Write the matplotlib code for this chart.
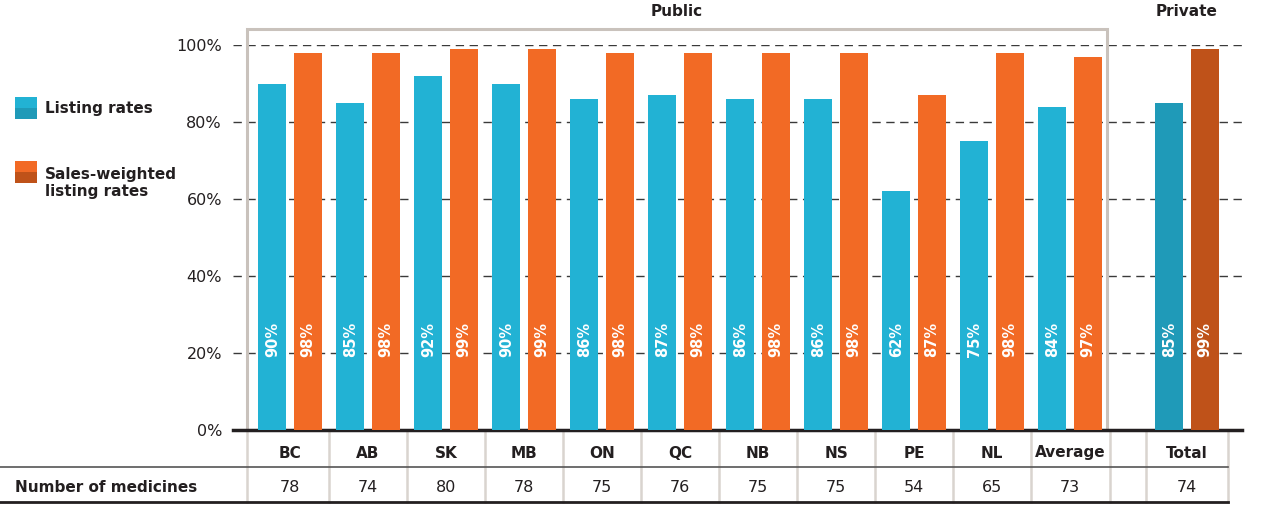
import matplotlib.pyplot as plt
from matplotlib.patches import Rectangle

# datos
provincias = ["BC", "AB", "SK", "MB", "ON", "QC", "NB", "NS", "PE", "NL", "Average"]
listing = [90, 85, 92, 90, 86, 87, 86, 86, 62, 75, 84]
sales_w = [98, 98, 99, 99, 98, 98, 98, 98, 87, 98, 97]
n_meds = [78, 74, 80, 78, 75, 76, 75, 75, 54, 65, 73]

privado_label = "Total"
privado_listing = 85
privado_sales = 99
privado_n = 74

yticks = [0, 20, 40, 60, 80, 100]

AZUL = "#22b2d4"
NARANJA = "#f26a25"
AZUL_OSC = "#1f9ab8"
NARANJA_OSC = "#bf5219"
TEXTO = "#231f20"

plt.rcParams["font.family"] = ["DejaVu Sans"]

W, H = 1276, 516
fig = plt.figure(figsize=(W / 100, H / 100), dpi=100)

# ejes: y=0 en px 430, 100% en px 45
y0_px, y100_px = 430, 45
ax_left, ax_right = 233, 1242
ax = fig.add_axes([ax_left / W, 1 - y0_px / H, (ax_right - ax_left) / W, (y0_px - y100_px) / H])

# escala x: 78 px por unidad, BC en px 290
px_unit = 78.0
x_bc = 290.0
def xd(px):
    return (px - x_bc) / px_unit
def ya(py):
    return (y0_px - py) / (y0_px - y100_px)

ax.set_xlim(xd(ax_left), xd(ax_right))
ax.set_ylim(0, 100)

pos = list(range(len(provincias)))
pos_priv = 11.5
w = 0.36
off = 0.225

ax.bar([p - off for p in pos], listing, width=w, color=AZUL, zorder=3)
ax.bar([p + off for p in pos], sales_w, width=w, color=NARANJA, zorder=3)
ax.bar([pos_priv - off], [privado_listing], width=w, color=AZUL_OSC, zorder=3)
ax.bar([pos_priv + off], [privado_sales], width=w, color=NARANJA_OSC, zorder=3)

# etiquetas dentro de barras
fs_bar = 10.5
for p, a, b in zip(pos, listing, sales_w):
    ax.text(p - off, 23.5, f"{a}%", rotation=90, ha="center", va="center",
            color="white", fontsize=fs_bar, fontweight="bold", zorder=4)
    ax.text(p + off, 23.5, f"{b}%", rotation=90, ha="center", va="center",
            color="white", fontsize=fs_bar, fontweight="bold", zorder=4)
ax.text(pos_priv - off, 23.5, f"{privado_listing}%", rotation=90, ha="center", va="center",
        color="white", fontsize=fs_bar, fontweight="bold", zorder=4)
ax.text(pos_priv + off, 23.5, f"{privado_sales}%", rotation=90, ha="center", va="center",
        color="white", fontsize=fs_bar, fontweight="bold", zorder=4)

# grid
for yt in yticks[1:]:
    ax.axhline(yt, color="#3a3a3a", lw=1.0, ls=(0, (6, 4)), zorder=1)

ax.set_yticks(yticks)
ax.set_yticklabels([f"{v}%" for v in yticks], fontsize=11.5, color=TEXTO)
ax.tick_params(axis="y", length=0, pad=8)
ax.set_xticks([])
for s in ["top", "right", "left"]:
    ax.spines[s].set_visible(False)
ax.spines["bottom"].set_linewidth(2.5)
ax.spines["bottom"].set_color("#231f20")

# caja "Public"
box_l, box_r = xd(247), xd(1107)
ax.add_patch(Rectangle((box_l, 0), box_r - box_l, ya(29) * 100, fill=False,
                       edgecolor="#c9c2bc", lw=2.2, zorder=2, clip_on=False))
ax.text((box_l + box_r) / 2, ya(12) * 100, "Public", ha="center", va="center",
        fontsize=11, fontweight="bold", color=TEXTO, clip_on=False)
ax.text(pos_priv, ya(12) * 100, "Private", ha="center", va="center",
        fontsize=11, fontweight="bold", color=TEXTO, clip_on=False)

# tabla inferior
tr = ax.get_xaxis_transform()
sep_x = [xd(247)] + [p + 0.5 for p in pos[:-1]] + [xd(1110), xd(1146), xd(1228)]
for sx in sep_x:
    ax.plot([sx, sx], [ya(432), ya(502)], transform=tr, color="#d9d4cf", lw=1.8,
            clip_on=False, zorder=1)
ax.plot([xd(0), xd(1228)], [ya(467), ya(467)], transform=tr, color="#555555", lw=1.2,
        clip_on=False)
ax.plot([xd(0), xd(1228)], [ya(502), ya(502)], transform=tr, color="#231f20", lw=2.0,
        clip_on=False)

for p, lab, n in zip(pos, provincias, n_meds):
    ax.text(p, ya(453), lab, transform=tr, ha="center", va="center", fontsize=11,
            fontweight="bold", color=TEXTO, clip_on=False)
    ax.text(p, ya(488), str(n), transform=tr, ha="center", va="center", fontsize=11.5,
            color=TEXTO, clip_on=False)
ax.text(pos_priv, ya(453), privado_label, transform=tr, ha="center", va="center",
        fontsize=11, fontweight="bold", color=TEXTO, clip_on=False)
ax.text(pos_priv, ya(488), str(privado_n), transform=tr, ha="center", va="center",
        fontsize=11.5, color=TEXTO, clip_on=False)
fig.text(15 / W, 1 - 488 / H, "Number of medicines", ha="left", va="center",
         fontsize=11, fontweight="bold", color=TEXTO)

# leyenda
def cuadro(y_top, c1, c2):
    fig.add_artist(Rectangle((15 / W, 1 - (y_top + 11) / H), 22 / W, 11 / H,
                             transform=fig.transFigure, color=c1, lw=0))
    fig.add_artist(Rectangle((15 / W, 1 - (y_top + 22) / H), 22 / W, 11 / H,
                             transform=fig.transFigure, color=c2, lw=0))

cuadro(97, AZUL, AZUL_OSC)
cuadro(161, NARANJA, NARANJA_OSC)
fig.text(45 / W, 1 - 108 / H, "Listing rates", ha="left", va="center",
         fontsize=11, fontweight="bold", color=TEXTO)
fig.text(45 / W, 1 - 183 / H, "Sales-weighted\nlisting rates", ha="left", va="center",
         fontsize=11, fontweight="bold", color=TEXTO, linespacing=1.2)

fig.savefig("out.png", dpi=100)
